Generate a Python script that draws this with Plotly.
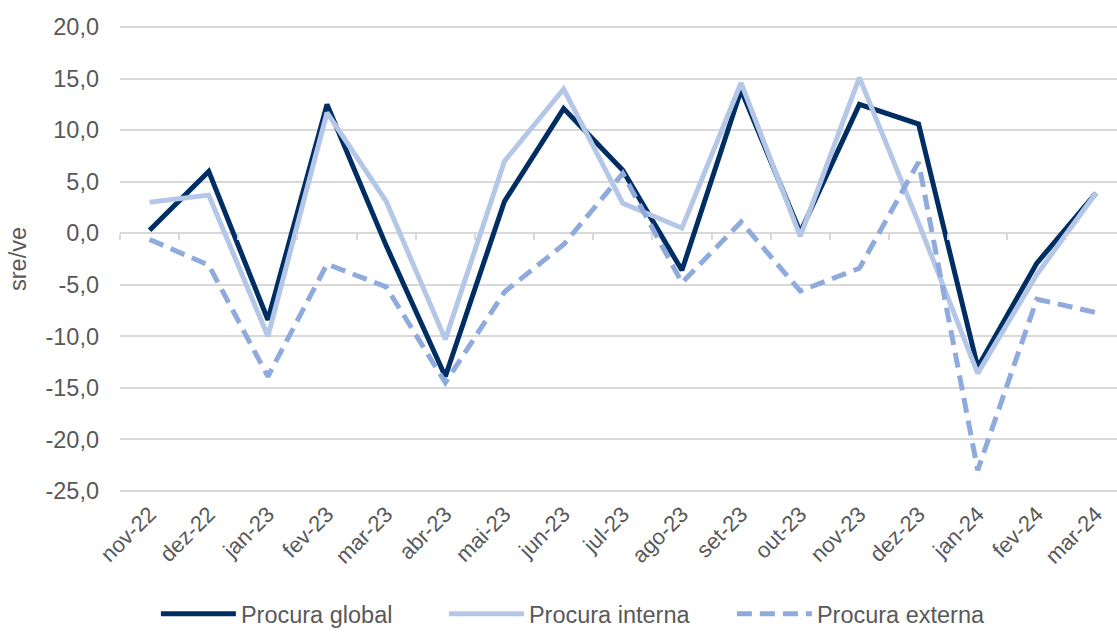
import plotly.graph_objects as go

months = ["nov-22", "dez-22", "jan-23", "fev-23", "mar-23", "abr-23", "mai-23", "jun-23",
          "jul-23", "ago-23", "set-23", "out-23", "nov-23", "dez-23", "jan-24", "fev-24", "mar-24"]
procura_global = [0.3, 6.0, -8.4, 12.5, -1.2, -13.9, 3.1, 12.1, 6.1, -3.6, 13.9, 0.1, 12.5, 10.6, -13.0, -2.9, 3.9]
procura_interna = [3.0, 3.7, -10.0, 11.7, 3.1, -10.3, 7.0, 14.0, 2.9, 0.5, 14.6, -0.3, 15.1, 1.0, -13.6, -4.0, 3.9]
procura_externa = [-0.6, -3.1, -13.9, -3.0, -5.2, -14.5, -5.7, -1.1, 5.8, -4.8, 1.1, -5.6, -3.4, 6.9, -23.0, -6.4, -7.7]
y_ticks = [20, 15, 10, 5, 0, -5, -10, -15, -20, -25]
y_ticktext = [f"{v:.1f}".replace(".", ",") for v in y_ticks]

FONT = "Liberation Sans, Arial, sans-serif"
TXT = "#595959"
GRID = "#d9d9d9"

fig = go.Figure()
fig.add_trace(go.Scatter(x=months, y=procura_global, mode="lines", name="Procura global",
                         line=dict(color="#002D62", width=5)))
fig.add_trace(go.Scatter(x=months, y=procura_interna, mode="lines", name="Procura interna",
                         line=dict(color="#B4C7E7", width=5)))
fig.add_trace(go.Scatter(x=months, y=procura_externa, mode="lines", name="Procura externa",
                         line=dict(color="#8FAADC", width=5, dash="15px,8px")))
# helper trace for the category tick marks drawn on the zero line
fig.add_trace(go.Scatter(x=[None], y=[None], xaxis="x2", showlegend=False, hoverinfo="skip"))

y_range = [-25.5, 20.5]
x_range = [-0.5, 16.355]

fig.update_layout(
    width=1117, height=636,
    margin=dict(l=120, r=0, t=22, b=132),
    paper_bgcolor="white", plot_bgcolor="white",
    font=dict(family=FONT, color=TXT, size=23),
    xaxis=dict(type="category", range=x_range, showgrid=False, zeroline=False, showline=False,
               automargin=False, ticks="", tickangle=-45, tickfont=dict(size=22, color=TXT)),
    xaxis2=dict(overlaying="x", anchor="free", side="bottom", automargin=False,
                position=(0 - y_range[0]) / (y_range[1] - y_range[0]),
                range=x_range, tickmode="array",
                tickvals=[i - 0.5 for i in range(len(months) + 1)],
                showticklabels=False, ticks="outside", ticklen=6, tickwidth=2, tickcolor=GRID,
                showgrid=False, zeroline=False, showline=False),
    yaxis=dict(range=y_range, tickmode="array", tickvals=y_ticks, ticktext=y_ticktext,
               automargin=False,
               showgrid=True, gridcolor=GRID, gridwidth=2, zeroline=False, showline=False,
               ticks="", tickfont=dict(size=23.5, color=TXT), ticklabelstandoff=20,
               title=dict(text="sre/ve", font=dict(size=23.5, color=TXT), standoff=12)),
    legend=dict(orientation="h", x=0.036, xanchor="left", y=-0.25, yanchor="middle",
                font=dict(size=23.5, color=TXT), itemwidth=75, entrywidth=198,
                bgcolor="rgba(0,0,0,0)"),
    showlegend=True,
)

fig.write_html("out.html", config={"displayModeBar": False},
               post_script="document.body.style.margin='0';")
